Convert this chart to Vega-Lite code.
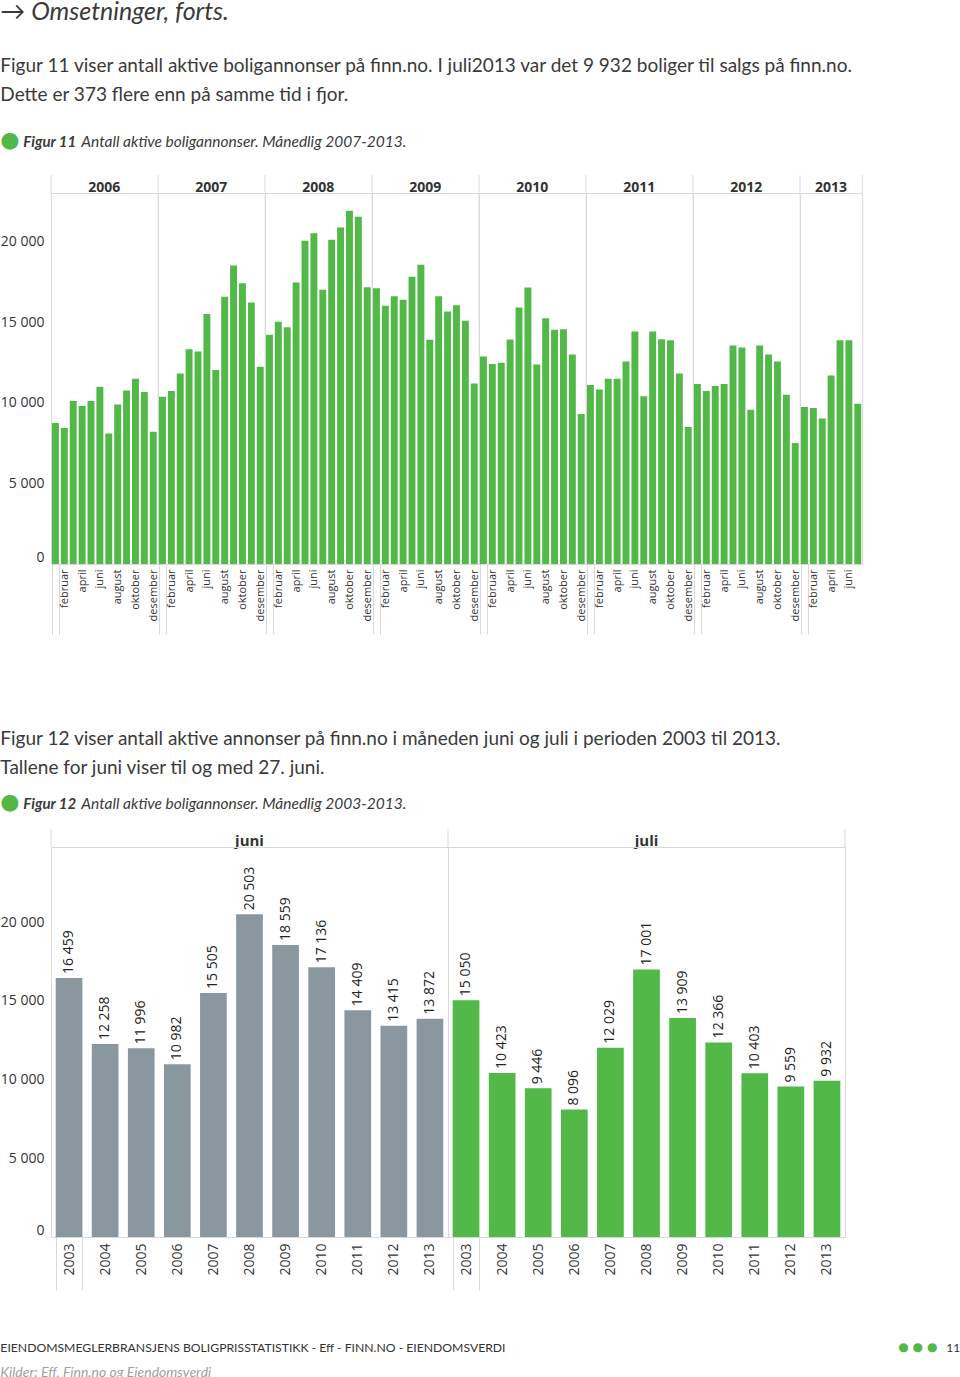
{
 "$schema": "https://vega.github.io/schema/vega-lite/v6.json",
 "padding": 0,
 "background": "white",
 "config": {
  "locale": {"number": {"decimal": ",", "thousands": " ", "grouping": [3], "currency": ["", " kr"]}},
  "font": "Open Sans",
  "view": {"stroke": "#d9d9d9"},
  "title": {"anchor": "start", "frame": "bounds", "font": "Lato", "fontWeight": "normal", "color": "#3a3a3a"},
  "axis": {"labelFont": "Open Sans", "labelColor": "#333", "title": null},
  "header": {"labelFont": "Open Sans"}
 },
 "title": {"text": "→ Omsetninger, forts.", "fontSize": 25, "fontStyle": "italic", "offset": 32},
 "spacing": 94,
 "vconcat": [
  {
   "title": {"text": ["Figur 11 viser antall aktive boligannonser på finn.no. I juli2013 var det 9 932 boliger til salgs på finn.no.", "Dette er 373 flere enn på samme tid i fjor."], "fontSize": 19, "lineHeight": 29, "offset": 24},
   "vconcat": [{
    "title": {"text": "●", "font": "DejaVu Sans", "fontSize": 22, "color": "#52b848", "offset": -17},
    "vconcat": [{
     "title": {"text": "Figur 11", "fontSize": 15, "fontStyle": "italic", "fontWeight": "bold", "dx": 23, "offset": -15},
     "vconcat": [{
      "title": {"text": "Antall aktive boligannonser. Månedlig 2007-2013.", "fontSize": 15.5, "fontStyle": "italic", "dx": 81, "offset": 23},
      "data": {"values": [
       {"year":"2006","m":1,"v":8736},{"year":"2006","m":2,"v":8426},{"year":"2006","m":3,"v":10099},{"year":"2006","m":4,"v":9789},{"year":"2006","m":5,"v":10099},{"year":"2006","m":6,"v":10982},{"year":"2006","m":7,"v":8096},{"year":"2006","m":8,"v":9893},{"year":"2006","m":9,"v":10760},{"year":"2006","m":10,"v":11483},{"year":"2006","m":11,"v":10657},{"year":"2006","m":12,"v":8199},
       {"year":"2007","m":1,"v":10368},{"year":"2007","m":2,"v":10719},{"year":"2007","m":3,"v":11813},{"year":"2007","m":4,"v":13321},{"year":"2007","m":5,"v":13176},{"year":"2007","m":6,"v":15505},{"year":"2007","m":7,"v":12029},{"year":"2007","m":8,"v":16563},{"year":"2007","m":9,"v":18505},{"year":"2007","m":10,"v":17410},{"year":"2007","m":11,"v":16212},{"year":"2007","m":12,"v":12226},
       {"year":"2008","m":1,"v":14209},{"year":"2008","m":2,"v":15015},{"year":"2008","m":3,"v":14684},{"year":"2008","m":4,"v":17451},{"year":"2008","m":5,"v":20033},{"year":"2008","m":6,"v":20503},{"year":"2008","m":7,"v":17001},{"year":"2008","m":8,"v":20095},{"year":"2008","m":9,"v":20859},{"year":"2008","m":10,"v":21892},{"year":"2008","m":11,"v":21520},{"year":"2008","m":12,"v":17162},
       {"year":"2009","m":1,"v":17100},{"year":"2009","m":2,"v":16006},{"year":"2009","m":3,"v":16605},{"year":"2009","m":4,"v":16378},{"year":"2009","m":5,"v":17803},{"year":"2009","m":6,"v":18559},{"year":"2009","m":7,"v":13909},{"year":"2009","m":8,"v":16605},{"year":"2009","m":9,"v":15655},{"year":"2009","m":10,"v":16047},{"year":"2009","m":11,"v":15076},{"year":"2009","m":12,"v":11194},
       {"year":"2010","m":1,"v":12867},{"year":"2010","m":2,"v":12392},{"year":"2010","m":3,"v":12474},{"year":"2010","m":4,"v":13920},{"year":"2010","m":5,"v":15903},{"year":"2010","m":6,"v":17136},{"year":"2010","m":7,"v":12366},{"year":"2010","m":8,"v":15242},{"year":"2010","m":9,"v":14519},{"year":"2010","m":10,"v":14560},{"year":"2010","m":11,"v":12991},{"year":"2010","m":12,"v":9294},
       {"year":"2011","m":1,"v":11090},{"year":"2011","m":2,"v":10822},{"year":"2011","m":3,"v":11483},{"year":"2011","m":4,"v":11483},{"year":"2011","m":5,"v":12557},{"year":"2011","m":6,"v":14409},{"year":"2011","m":7,"v":10403},{"year":"2011","m":8,"v":14416},{"year":"2011","m":9,"v":13941},{"year":"2011","m":10,"v":13879},{"year":"2011","m":11,"v":11813},{"year":"2011","m":12,"v":8488},
       {"year":"2012","m":1,"v":11152},{"year":"2012","m":2,"v":10719},{"year":"2012","m":3,"v":11029},{"year":"2012","m":4,"v":11152},{"year":"2012","m":5,"v":13548},{"year":"2012","m":6,"v":13415},{"year":"2012","m":7,"v":9559},{"year":"2012","m":8,"v":13548},{"year":"2012","m":9,"v":12991},{"year":"2012","m":10,"v":12557},{"year":"2012","m":11,"v":10492},{"year":"2012","m":12,"v":7497},
       {"year":"2013","m":1,"v":9727},{"year":"2013","m":2,"v":9665},{"year":"2013","m":3,"v":9025},{"year":"2013","m":4,"v":11689},{"year":"2013","m":5,"v":13879},{"year":"2013","m":6,"v":13872},{"year":"2013","m":7,"v":9932}
      ]},
      "facet": {"column": {"field": "year", "type": "ordinal", "title": null, "header": {"labelFontWeight": "bold", "labelFontSize": 14, "labelColor": "#333", "labelPadding": -2}}},
      "spacing": 0,
      "bounds": "flush",
      "align": "each",
      "resolve": {"scale": {"x": "independent"}},
      "spec": {
       "width": {"step": 8.89},
       "height": 371,
       "layer": [
        {"mark": {"type": "bar", "color": "#52b848"},
         "encoding": {
          "x": {"field": "m", "type": "ordinal", "scale": {"paddingInner": 0.22, "paddingOuter": 0.11},
           "axis": {"labelAngle": -90, "labelFontSize": 11, "labelExpr": "datum.value % 2 == 0 ? ['','januar','februar','mars','april','mai','juni','juli','august','september','oktober','november','desember'][datum.value] : ''", "domainColor": "#d9d9d9", "tickBand": "extent", "tickSize": 70, "tickColor": "#d9d9d9", "tickOpacity": {"condition": {"test": "datum.index <= 0", "value": 1}, "value": 0}, "labelPadding": -65}},
          "y": {"field": "v", "type": "quantitative", "scale": {"domain": [0, 23000], "nice": false},
           "axis": {"values": [0, 5000, 10000, 15000, 20000], "format": ",d", "domain": false, "ticks": false, "grid": false, "labelFontSize": 14, "labelPadding": 7, "labelFlush": true}}
         }},
        {"transform": [{"filter": "datum.m == 1"}],
         "mark": {"type": "rule", "color": "#d9d9d9", "strokeWidth": 1},
         "encoding": {
          "x": {"field": "m", "type": "ordinal", "bandPosition": -0.141, "scale": {"paddingInner": 0.22, "paddingOuter": 0.11},
           "axis": {"labelAngle": -90, "labelFontSize": 11, "labelExpr": "datum.value % 2 == 0 ? ['','januar','februar','mars','april','mai','juni','juli','august','september','oktober','november','desember'][datum.value] : ''", "domainColor": "#d9d9d9", "tickBand": "extent", "tickSize": 70, "tickColor": "#d9d9d9", "tickOpacity": {"condition": {"test": "datum.index <= 0", "value": 1}, "value": 0}, "labelPadding": -65}},
          "y": {"datum": 23000, "scale": {"domain": [0, 23000], "nice": false},
           "axis": {"values": [0, 5000, 10000, 15000, 20000], "format": ",d", "domain": false, "ticks": false, "grid": false, "labelFontSize": 14, "labelPadding": 7, "labelFlush": true}},
          "y2": {"datum": 24116}}},
        {"transform": [{"filter": "datum.year == '2013' && datum.m == 7"}],
         "mark": {"type": "rule", "color": "#d9d9d9", "strokeWidth": 1},
         "encoding": {
          "x": {"field": "m", "type": "ordinal", "bandPosition": 1.141, "scale": {"paddingInner": 0.22, "paddingOuter": 0.11},
           "axis": {"labelAngle": -90, "labelFontSize": 11, "labelExpr": "datum.value % 2 == 0 ? ['','januar','februar','mars','april','mai','juni','juli','august','september','oktober','november','desember'][datum.value] : ''", "domainColor": "#d9d9d9", "tickBand": "extent", "tickSize": 70, "tickColor": "#d9d9d9", "tickOpacity": {"condition": {"test": "datum.index <= 0", "value": 1}, "value": 0}, "labelPadding": -65}},
          "y": {"datum": 23000, "scale": {"domain": [0, 23000], "nice": false},
           "axis": {"values": [0, 5000, 10000, 15000, 20000], "format": ",d", "domain": false, "ticks": false, "grid": false, "labelFontSize": 14, "labelPadding": 7, "labelFlush": true}},
          "y2": {"datum": 24116}}}
       ]
      }
     }]
    }]
   }]
  },
  {
   "title": {"text": "EIENDOMSMEGLERBRANSJENS BOLIGPRISSTATISTIKK - Eff - FINN.NO - EIENDOMSVERDI", "subtitle": "Kilder: Eff, Finn.no og Eiendomsverdi", "orient": "bottom", "fontSize": 12.2, "color": "#333", "subtitleFont": "Lato", "subtitleFontSize": 14, "subtitleFontStyle": "italic", "subtitleColor": "#a0a0a0", "subtitlePadding": 12, "offset": -12},
   "vconcat": [{
    "title": {"text": "●  ●  ●", "orient": "bottom", "font": "DejaVu Sans", "fontSize": 12, "color": "#52b848", "dx": 898, "offset": -12},
    "vconcat": [{
     "title": {"text": "11", "orient": "bottom", "fontSize": 12, "color": "#333", "dx": 946, "offset": 52},
     "vconcat": [{
      "title": {"text": ["Figur 12 viser antall aktive annonser på finn.no i måneden juni og juli i perioden 2003 til 2013.", "Tallene for juni viser til og med 27. juni."], "fontSize": 19, "lineHeight": 29, "offset": 13},
      "vconcat": [{
       "title": {"text": "●", "font": "DejaVu Sans", "fontSize": 22, "color": "#52b848", "offset": -17},
       "vconcat": [{
        "title": {"text": "Figur 12", "fontSize": 15, "fontStyle": "italic", "fontWeight": "bold", "dx": 23, "offset": -15},
        "vconcat": [{
         "title": {"text": "Antall aktive boligannonser. Månedlig 2003-2013.", "fontSize": 15.5, "fontStyle": "italic", "dx": 81, "offset": 16},
         "data": {"values": [
          {"mnd":"juni","year":"2003","v":16459},{"mnd":"juni","year":"2004","v":12258},{"mnd":"juni","year":"2005","v":11996},{"mnd":"juni","year":"2006","v":10982},{"mnd":"juni","year":"2007","v":15505},{"mnd":"juni","year":"2008","v":20503},{"mnd":"juni","year":"2009","v":18559},{"mnd":"juni","year":"2010","v":17136},{"mnd":"juni","year":"2011","v":14409},{"mnd":"juni","year":"2012","v":13415},{"mnd":"juni","year":"2013","v":13872},
          {"mnd":"juli","year":"2003","v":15050},{"mnd":"juli","year":"2004","v":10423},{"mnd":"juli","year":"2005","v":9446},{"mnd":"juli","year":"2006","v":8096},{"mnd":"juli","year":"2007","v":12029},{"mnd":"juli","year":"2008","v":17001},{"mnd":"juli","year":"2009","v":13909},{"mnd":"juli","year":"2010","v":12366},{"mnd":"juli","year":"2011","v":10403},{"mnd":"juli","year":"2012","v":9559},{"mnd":"juli","year":"2013","v":9932}
         ]},
         "facet": {"column": {"field": "mnd", "type": "nominal", "sort": ["juni", "juli"], "title": null, "header": {"labelFontWeight": "bold", "labelFontSize": 15, "labelColor": "#333", "labelPadding": -2}}},
         "spacing": 0,
         "bounds": "flush",
         "spec": {
          "width": 397,
          "height": 390,
          "layer": [
           {"mark": {"type": "bar"},
            "encoding": {
             "x": {"field": "year", "type": "ordinal", "scale": {"paddingInner": 0.26, "paddingOuter": 0.13},
              "axis": {"labelAngle": -90, "labelFontSize": 14, "domainColor": "#d9d9d9", "tickBand": "extent", "tickSize": 53, "tickColor": "#d9d9d9", "tickOpacity": {"condition": {"test": "datum.index <= 0", "value": 1}, "value": 0}, "labelPadding": -47}},
             "y": {"field": "v", "type": "quantitative", "scale": {"domain": [0, 24780], "nice": false},
              "axis": {"values": [0, 5000, 10000, 15000, 20000], "format": ",d", "domain": false, "ticks": false, "grid": false, "labelFontSize": 14, "labelPadding": 7, "labelFlush": true}},
             "color": {"field": "mnd", "type": "nominal", "scale": {"domain": ["juni", "juli"], "range": ["#8a979f", "#52b848"]}, "legend": null}}},
           {"mark": {"type": "text", "angle": 270, "align": "left", "baseline": "middle", "dx": 4, "fontSize": 14, "color": "#222"},
            "encoding": {
             "x": {"field": "year", "type": "ordinal", "scale": {"paddingInner": 0.26, "paddingOuter": 0.13},
              "axis": {"labelAngle": -90, "labelFontSize": 14, "domainColor": "#d9d9d9", "tickBand": "extent", "tickSize": 53, "tickColor": "#d9d9d9", "tickOpacity": {"condition": {"test": "datum.index <= 0", "value": 1}, "value": 0}, "labelPadding": -47}},
             "y": {"field": "v", "type": "quantitative", "scale": {"domain": [0, 24780], "nice": false},
              "axis": {"values": [0, 5000, 10000, 15000, 20000], "format": ",d", "domain": false, "ticks": false, "grid": false, "labelFontSize": 14, "labelPadding": 7, "labelFlush": true}},
             "text": {"field": "v", "type": "quantitative", "format": ",d"}}},
           {"transform": [{"filter": "datum.year == '2003'"}],
            "mark": {"type": "rule", "color": "#d9d9d9", "strokeWidth": 1},
            "encoding": {
             "x": {"field": "year", "type": "ordinal", "bandPosition": -0.1756, "scale": {"paddingInner": 0.26, "paddingOuter": 0.13},
              "axis": {"labelAngle": -90, "labelFontSize": 14, "domainColor": "#d9d9d9", "tickBand": "extent", "tickSize": 53, "tickColor": "#d9d9d9", "tickOpacity": {"condition": {"test": "datum.index <= 0", "value": 1}, "value": 0}, "labelPadding": -47}},
             "y": {"datum": 24780, "scale": {"domain": [0, 24780], "nice": false},
              "axis": {"values": [0, 5000, 10000, 15000, 20000], "format": ",d", "domain": false, "ticks": false, "grid": false, "labelFontSize": 14, "labelPadding": 7, "labelFlush": true}},
             "y2": {"datum": 25923}}},
           {"transform": [{"filter": "datum.year == '2013' && datum.mnd == 'juli'"}],
            "mark": {"type": "rule", "color": "#d9d9d9", "strokeWidth": 1},
            "encoding": {
             "x": {"field": "year", "type": "ordinal", "bandPosition": 1.1756, "scale": {"paddingInner": 0.26, "paddingOuter": 0.13},
              "axis": {"labelAngle": -90, "labelFontSize": 14, "domainColor": "#d9d9d9", "tickBand": "extent", "tickSize": 53, "tickColor": "#d9d9d9", "tickOpacity": {"condition": {"test": "datum.index <= 0", "value": 1}, "value": 0}, "labelPadding": -47}},
             "y": {"datum": 24780, "scale": {"domain": [0, 24780], "nice": false},
              "axis": {"values": [0, 5000, 10000, 15000, 20000], "format": ",d", "domain": false, "ticks": false, "grid": false, "labelFontSize": 14, "labelPadding": 7, "labelFlush": true}},
             "y2": {"datum": 25923}}}
          ]
         }
        }]
       }]
      }]
     }]
    }]
   }]
  }
 ]
}
